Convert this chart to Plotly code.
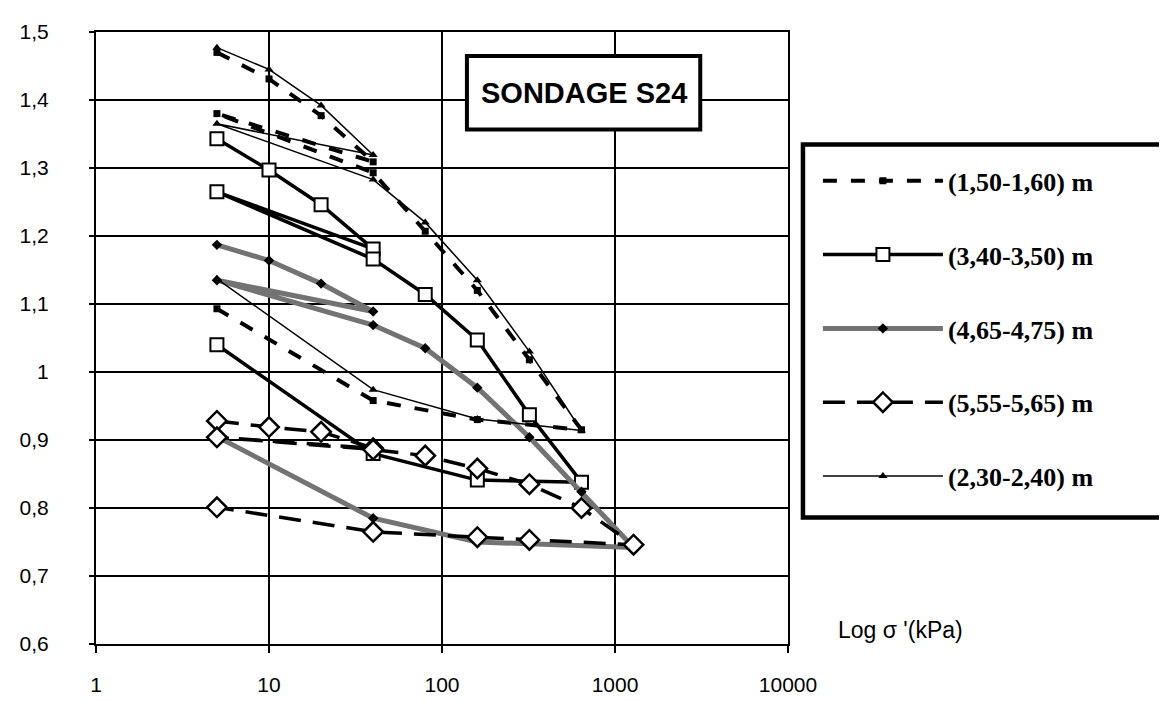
import plotly.graph_objects as go

# ---------------- data ----------------
# stress steps (kPa) in test order: loading, unload/reload cycle, loading, unloading
X_S1 = [5, 10, 20, 40, 5, 40, 80, 160, 320, 640, 160, 40, 5]
Y_S1 = [1.470, 1.431, 1.377, 1.309, 1.380, 1.293, 1.207, 1.120, 1.018, 0.915, 0.930, 0.958, 1.093]

X_S2 = [5, 10, 20, 40, 5, 40, 80, 160, 320, 640, 160, 40, 5]
Y_S2 = [1.343, 1.297, 1.246, 1.181, 1.265, 1.166, 1.114, 1.047, 0.937, 0.838, 0.841, 0.880, 1.040]

X_S3 = [5, 10, 20, 40, 5, 40, 80, 160, 320, 640, 1280, 160, 40, 5]
Y_S3 = [1.187, 1.164, 1.130, 1.089, 1.135, 1.069, 1.035, 0.977, 0.904, 0.824, 0.742, 0.750, 0.785, 0.905]

X_S4 = [5, 10, 20, 40, 5, 40, 80, 160, 320, 640, 1280, 320, 160, 40, 5]
Y_S4 = [0.928, 0.919, 0.912, 0.888, 0.904, 0.886, 0.877, 0.858, 0.835, 0.800, 0.746, 0.753, 0.757, 0.765, 0.801]

X_S5 = [5, 10, 20, 40, 5, 40, 80, 160, 320, 640, 160, 40, 5]
Y_S5 = [1.477, 1.445, 1.392, 1.319, 1.365, 1.283, 1.220, 1.135, 1.030, 0.914, 0.931, 0.974, 1.137]

NAMES = ["(1,50-1,60) m", "(3,40-3,50) m", "(4,65-4,75) m", "(5,55-5,65) m", "(2,30-2,40) m"]

X_TICKS = [1, 10, 100, 1000, 10000]
X_TICK_LABELS = ["1", "10", "100", "1000", "10000"]
Y_TICKS = [0.6, 0.7, 0.8, 0.9, 1.0, 1.1, 1.2, 1.3, 1.4, 1.5]
Y_TICK_LABELS = ["0,6", "0,7", "0,8", "0,9", "1", "1,1", "1,2", "1,3", "1,4", "1,5"]

TITLE = "SONDAGE S24"
X_TITLE = "Log \u03c3 '(kPa)"

# ---------------- figure ----------------
fig = go.Figure()

fig.add_trace(go.Scatter(
    x=X_S1, y=Y_S1, name=NAMES[0], mode="lines+markers", legendgroup="g1",
    line=dict(color="black", width=4, dash="14px,14px"),
    marker=dict(symbol="square", size=7, color="black")))

fig.add_trace(go.Scatter(
    x=X_S2, y=Y_S2, name=NAMES[1], mode="lines+markers", legendgroup="g2",
    line=dict(color="black", width=3.5),
    marker=dict(symbol="square", size=13, color="white", line=dict(color="black", width=2))))

fig.add_trace(go.Scatter(
    x=X_S3, y=Y_S3, name=NAMES[2], mode="lines+markers", legendgroup="g3",
    line=dict(color="#737373", width=5),
    marker=dict(symbol="diamond", size=8, color="black")))

fig.add_trace(go.Scatter(
    x=X_S4, y=Y_S4, name=NAMES[3], mode="lines+markers", legendgroup="g4",
    line=dict(color="black", width=3.5, dash="22px,12px"),
    marker=dict(symbol="diamond", size=15, color="white", line=dict(color="black", width=2.5))))

fig.add_trace(go.Scatter(
    x=X_S5, y=Y_S5, name=NAMES[4], mode="lines+markers", legendgroup="g5",
    line=dict(color="black", width=1.5),
    marker=dict(symbol="triangle-up", size=8, color="black")))

axis_font = dict(family="Liberation Sans Narrow, Arial Narrow, Liberation Sans, Arial", size=21, color="black")

fig.update_xaxes(
    type="log", range=[0, 4],
    tickvals=X_TICKS, ticktext=X_TICK_LABELS,
    showgrid=True, gridcolor="black", gridwidth=1.5,
    showline=True, linecolor="black", linewidth=2, mirror=True,
    ticks="outside", ticklen=7, tickwidth=1.5, tickcolor="black",
    ticklabelstandoff=14, tickfont=axis_font, zeroline=False)

fig.update_yaxes(
    range=[0.6, 1.5],
    tickvals=Y_TICKS, ticktext=Y_TICK_LABELS,
    showgrid=True, gridcolor="black", gridwidth=1.5,
    showline=True, linecolor="black", linewidth=2, mirror=True,
    ticks="outside", ticklen=5, tickwidth=1.5, tickcolor="black",
    ticklabelstandoff=36, tickfont=axis_font, zeroline=False)

PL, PR, PT, PB = 86, 780, 21, 636
W, H = 1167, 702
PW, PH = PR - PL, PB - PT


def px(xp):
    return (xp - PL) / PW


def py(yp):
    return (PB - yp) / PH


fig.update_layout(
    width=W, height=H,
    margin=dict(l=PL, r=W - PR, t=PT, b=H - PB, pad=0),
    paper_bgcolor="white", plot_bgcolor="white",
    showlegend=True,
    legend=dict(
        x=px(810), y=py(147), xanchor="left", yanchor="top",
        bgcolor="rgba(0,0,0,0)", borderwidth=0,
        traceorder="grouped", tracegroupgap=37, itemwidth=120,
        font=dict(family="Liberation Serif, Times New Roman, serif", size=26, color="black", weight="bold"),
    ),
    shapes=[
        # title box
        dict(type="rect", xref="paper", yref="paper",
             x0=px(458), x1=px(692), y0=py(119), y1=py(45),
             line=dict(color="black", width=4), fillcolor="white", layer="above"),
        # legend frame
        dict(type="rect", xref="paper", yref="paper",
             x0=px(795), x1=px(1163), y0=py(509), y1=py(134),
             line=dict(color="black", width=4.5), fillcolor="rgba(0,0,0,0)", layer="above"),
    ],
    annotations=[
        dict(text="<b>" + TITLE + "</b>", xref="paper", yref="paper",
             x=px(575), y=py(82), xanchor="center", yanchor="middle", showarrow=False,
             font=dict(family="Liberation Sans, Arial, sans-serif", size=29, color="black")),
        dict(text=X_TITLE, xref="paper", yref="paper",
             x=px(828), y=py(622), xanchor="left", yanchor="middle", showarrow=False,
             font=dict(family="Liberation Sans Narrow, Arial Narrow, Liberation Sans, Arial", size=23, color="black")),
    ],
)

fig.write_html("out.html")
